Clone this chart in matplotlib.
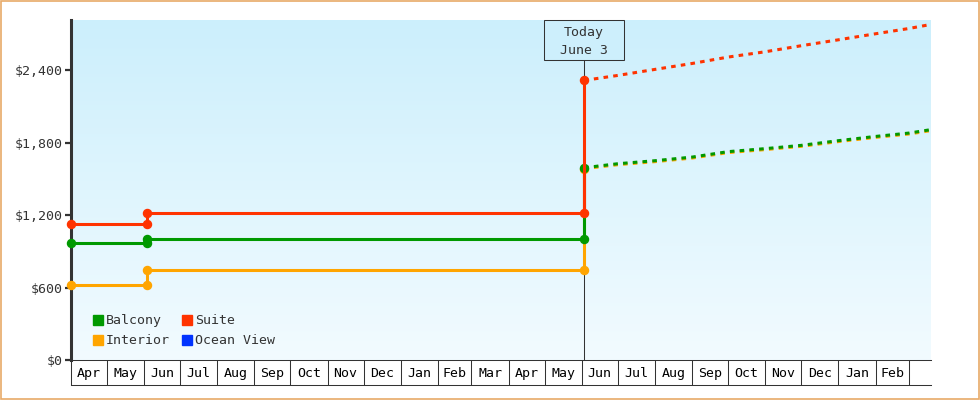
import datetime as dt
import matplotlib
matplotlib.use("Agg")
import matplotlib.pyplot as plt
import matplotlib.dates as mdates
import numpy as np
import pandas as pd
from matplotlib.lines import Line2D
from matplotlib.patches import Rectangle

plt.rcParams['font.family'] = ['DejaVu Sans Mono', 'DejaVu Sans']

d = dt.date
x_start = d(2012, 4, 1)
x_end = d(2014, 3, 19)
today = d(2013, 6, 3)

# fare history (dates the price changed)
hist_dates = [d(2012, 4, 1), d(2012, 6, 3), d(2013, 6, 3)]
balcony_hist = [972, 1005, 1592]
interior_hist = [621, 742, 1584]
suite_hist = [1123, 1220, 2315]
ocean_hist = []

# forecast after today
fc_dates = [d(2013, 6, 3), d(2013, 7, 1), d(2013, 8, 1), d(2013, 9, 1), d(2013, 10, 1),
            d(2013, 11, 1), d(2013, 12, 1), d(2014, 1, 1), d(2014, 2, 1), d(2014, 3, 1),
            d(2014, 3, 19)]
balcony_fc = [1592, 1625, 1650, 1680, 1725, 1750, 1777, 1816, 1851, 1879, 1907]
interior_fc = [1584, 1617, 1642, 1672, 1717, 1742, 1769, 1808, 1843, 1871, 1899]
suite_fc = [2315, 2356, 2406, 2455, 2508, 2552, 2602, 2651, 2701, 2745, 2778]

month_labels = ['Apr', 'May', 'Jun', 'Jul', 'Aug', 'Sep', 'Oct', 'Nov', 'Dec', 'Jan', 'Feb', 'Mar',
                'Apr', 'May', 'Jun', 'Jul', 'Aug', 'Sep', 'Oct', 'Nov', 'Dec', 'Jan', 'Feb']
yticks = [0, 600, 1200, 1800, 2400]
ytick_labels = ['$0', '$600', '$1,200', '$1,800', '$2,400']

GREEN = '#009900'
ORANGE = '#ffa500'
RED = '#ff3300'
BLUE = '#0033ff'
DARK = '#333333'
FS = 9.5


def steps(dates, vals):
    xs, ys = [dates[0]], [vals[0]]
    for i in range(1, len(dates)):
        xs += [dates[i], dates[i]]
        ys += [vals[i - 1], vals[i]]
    return xs, ys


fig = plt.figure(figsize=(9.8, 4.0), dpi=100)
fig.patches.append(Rectangle((0.001, 0.002), 0.998, 0.996, transform=fig.transFigure,
                             fill=False, edgecolor='#e8aa68', lw=1.2))
ax = fig.add_axes([71 / 980, 40 / 400, 859.7 / 980, 340 / 400])

# background gradient
grad = np.linspace(0, 1, 256).reshape(-1, 1)
cmap = matplotlib.colors.LinearSegmentedColormap.from_list('bg', ['#cceffc', '#f2fbff'])
ax.imshow(grad, extent=[0, 1, 0, 1], transform=ax.transAxes, aspect='auto',
          cmap=cmap, zorder=0)

x0n = mdates.date2num(x_start)
x1n = mdates.date2num(x_end)
tn = mdates.date2num(today)
tfrac = (tn - x0n) / (x1n - x0n)

# today marker
box_h = 40 / 340
ax.plot([today, today], [0, 1 - box_h], transform=ax.get_xaxis_transform(),
        color=DARK, lw=0.75, zorder=1.5)
ax.add_patch(Rectangle((tfrac - 40 / 859.7, 1 - box_h), 80 / 859.7, box_h,
                       transform=ax.transAxes, facecolor='#cdeffc', edgecolor=DARK,
                       lw=0.75, zorder=5, clip_on=False))
ax.text(tfrac, 1 - box_h / 2 - 0.004, 'Today\nJune 3', transform=ax.transAxes, ha='center',
        va='center', fontsize=FS, color=DARK, linespacing=1.5, zorder=6)

series = [
    (interior_hist, interior_fc, ORANGE),
    (balcony_hist, balcony_fc, GREEN),
    (ocean_hist, [], BLUE),
    (suite_hist, suite_fc, RED),
]
for hist, fc, col in series:
    if fc:
        ax.plot(fc_dates, fc, color=col, lw=2.2, ls=(0, (1.5, 1.7)), zorder=3)
    if hist:
        xs, ys = steps(hist_dates, hist)
        ax.plot(xs, ys, color=col, lw=2.2, marker='o', ms=5.8, zorder=4,
                solid_joinstyle='miter', clip_on=False)

ax.set_xlim(x_start, x_end)
ax.set_ylim(0, 2815)

month_starts = pd.date_range('2012-04-01', '2014-03-01', freq='MS')
ms_num = mdates.date2num(month_starts.to_pydatetime())
mids = (ms_num[:-1] + ms_num[1:]) / 2
ax.set_xticks(ms_num, minor=True)
ax.set_xticks(mids)
ax.set_xticklabels(month_labels)
ax.tick_params(axis='x', which='minor', length=18, width=0.75, color=DARK, direction='out')
ax.tick_params(axis='x', which='major', length=0, pad=5, labelsize=FS, labelcolor='black')

ax.set_yticks(yticks)
ax.set_yticklabels(ytick_labels)
ax.tick_params(axis='y', length=4, width=1.6, color=DARK, labelsize=FS,
               labelcolor=DARK, pad=2)

for s in ['top', 'right']:
    ax.spines[s].set_visible(False)
ax.spines['left'].set_linewidth(2.2)
ax.spines['left'].set_color(DARK)
ax.spines['bottom'].set_linewidth(0.75)
ax.spines['bottom'].set_color(DARK)
ax.plot([0, 1], [-25 / 340, -25 / 340], transform=ax.transAxes, color=DARK,
        lw=0.75, clip_on=False)

handles = [Line2D([], [], marker='s', ls='', ms=7.5, color=c)
           for c in [GREEN, ORANGE, RED, BLUE]]
ax.legend(handles, ['Balcony', 'Interior', 'Suite', 'Ocean View'], ncol=2,
          loc='lower left', bbox_to_anchor=(0.025, 0.037), frameon=False,
          handlelength=0.8, handletextpad=0.2, columnspacing=0.9, labelspacing=0.55,
          fontsize=FS, borderaxespad=0, borderpad=0, labelcolor=DARK)

fig.savefig('out.png', dpi=100)
